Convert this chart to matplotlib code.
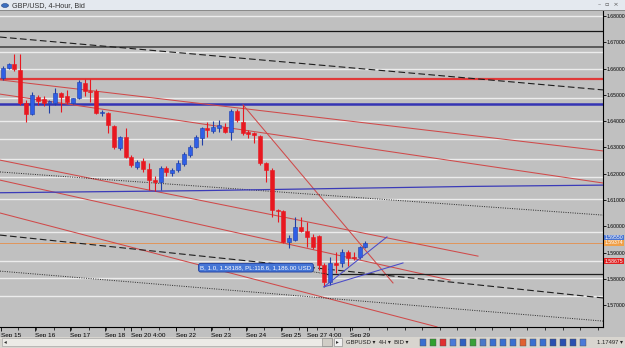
import matplotlib
matplotlib.use("Agg")
import matplotlib.pyplot as plt
from matplotlib.patches import Rectangle, Circle
import numpy as np

plt.rcParams['font.family'] = ['Liberation Sans', 'DejaVu Sans']

# ---------------- data (GBP/USD 4-hour candles) ----------------
opens = [1.6564, 1.6602, 1.6617, 1.6595, 1.6469, 1.6427, 1.6492, 1.6484, 1.6469, 1.6469,
         1.6507, 1.6496, 1.6469, 1.6488, 1.6545, 1.6515, 1.6515, 1.6431, 1.6431, 1.6382,
         1.6298, 1.6340, 1.6264, 1.6226, 1.6249, 1.6218, 1.6176, 1.6169, 1.6222, 1.6203,
         1.6214, 1.6237, 1.6271, 1.6302, 1.6336, 1.6374, 1.6363, 1.6374, 1.6378, 1.6359,
         1.6439, 1.6397, 1.6359, 1.6355, 1.6344, 1.6241, 1.6214, 1.6062, 1.6059, 1.5941,
         1.5948, 1.5998, 1.5982, 1.5960, 1.5963, 1.5853, 1.5789, 1.5861, 1.5861, 1.5903,
         1.5884, 1.5884, 1.5922]
highs = [1.6610, 1.6621, 1.6656, 1.6656, 1.6481, 1.6511, 1.6500, 1.6496, 1.6481, 1.6526,
         1.6511, 1.6519, 1.6488, 1.6557, 1.6560, 1.6560, 1.6522, 1.6443, 1.6435, 1.6386,
         1.6344, 1.6374, 1.6271, 1.6252, 1.6260, 1.6241, 1.6192, 1.6230, 1.6230, 1.6222,
         1.6252, 1.6283, 1.6310, 1.6348, 1.6378, 1.6397, 1.6401, 1.6405, 1.6393, 1.6446,
         1.6446, 1.6462, 1.6367, 1.6359, 1.6348, 1.6245, 1.6222, 1.6066, 1.6062, 1.5967,
         1.6036, 1.6036, 1.6017, 1.5971, 1.5967, 1.5861, 1.5884, 1.5903, 1.5914, 1.5910,
         1.5903, 1.5925, 1.5944]
lows = [1.6557, 1.6598, 1.6591, 1.6462, 1.6397, 1.6424, 1.6462, 1.6458, 1.6431, 1.6462,
        1.6435, 1.6465, 1.6465, 1.6484, 1.6496, 1.6473, 1.6427, 1.6420, 1.6355, 1.6294,
        1.6290, 1.6260, 1.6226, 1.6218, 1.6207, 1.6138, 1.6135, 1.6138, 1.6192, 1.6192,
        1.6207, 1.6230, 1.6264, 1.6298, 1.6310, 1.6340, 1.6355, 1.6359, 1.6355, 1.6329,
        1.6397, 1.6348, 1.6336, 1.6317, 1.6233, 1.6169, 1.6036, 1.6017, 1.5937, 1.5918,
        1.5944, 1.5979, 1.5922, 1.5914, 1.5834, 1.5770, 1.5777, 1.5823, 1.5846, 1.5849,
        1.5872, 1.5876, 1.5918]
closes = [1.6602, 1.6617, 1.6598, 1.6469, 1.6427, 1.6500, 1.6477, 1.6469, 1.6477, 1.6507,
          1.6492, 1.6473, 1.6488, 1.6549, 1.6515, 1.6511, 1.6431, 1.6435, 1.6386, 1.6302,
          1.6340, 1.6264, 1.6233, 1.6245, 1.6218, 1.6176, 1.6169, 1.6222, 1.6207, 1.6214,
          1.6241, 1.6275, 1.6302, 1.6340, 1.6374, 1.6367, 1.6378, 1.6386, 1.6359, 1.6439,
          1.6405, 1.6355, 1.6351, 1.6348, 1.6241, 1.6214, 1.6062, 1.6059, 1.5941, 1.5956,
          1.5998, 1.5982, 1.5960, 1.5922, 1.5853, 1.5789, 1.5861, 1.5853, 1.5903, 1.5880,
          1.5880, 1.5922, 1.5937]

date_labels = ["Sep 15", "Sep 16", "Sep 17", "Sep 18", "Sep 20 4:00", "Sep 22",
               "Sep 23", "Sep 24", "Sep 25", "Sep 27 4:00", "Sep 29"]
date_bars = [-0.3, 5.5, 11.5, 17.5, 21.9, 29.6, 35.6, 41.6, 47.6, 52.0, 59.4]

price_ticks = [1.57, 1.58, 1.59, 1.60, 1.61, 1.62, 1.63, 1.64, 1.65, 1.66, 1.67, 1.68]

white_levels = [1.6800, 1.6663, 1.6598, 1.6488, 1.6401, 1.6332, 1.6256, 1.6188,
                1.6104, 1.5979, 1.5868, 1.5804, 1.5735]
black_level = 1.6743
dark_level = 1.6682
red_level = 1.6560
blue_level = 1.6465
bid_level = 1.59374
entry_level = 1.58188
entry_bar = 55.4
stop_label = 1.58675
ask_label = 1.5956

# trend lines: (bar0, price0, bar1, price1)
red_trend_lines = [(-0.46, 1.6557, 102.62, 1.6287),
                   (-0.46, 1.6503, 102.62, 1.6165),
                   (-0.46, 1.6252, 81.25, 1.5887),
                   (-0.46, 1.6176, 76.46, 1.5796),
                   (-0.46, 1.6051, 74.24, 1.5618),
                   (41.08, 1.6462, 66.72, 1.5785)]
blue_trend_lines = [(54.92, 1.5770, 65.69, 1.5960),
                    (54.92, 1.5770, 68.43, 1.5861)]
dashed_lines = [(-0.46, 1.6720, 102.62, 1.6519),
                (-0.46, 1.5967, 102.62, 1.5728)]
dotted_lines = [(-0.46, 1.6207, 102.62, 1.6043),
                (-0.46, 1.5830, 102.62, 1.5640)]
ma_bars = [-0.46, 33.73, 79.88, 102.62]
ma_values = [1.6128, 1.6136, 1.6152, 1.6157]

trade_text = "B, 1.0, 1.58188, PL:118.6, 1,186.00 USD"

# ---------------- figure ----------------
W, H = 625, 348
BG = '#c0c0c0'
fig = plt.figure(figsize=(W / 100, H / 100), dpi=100, facecolor=BG)


def fx(px):
    return px / W


def fy(py):
    return 1 - py / H


ax = fig.add_axes([0, fy(327), fx(603), (327 - 11) / H])
ax.set_facecolor(BG)
ax.set_xlim(-0.46, 102.62)
ax.set_ylim(1.56175, 1.6819)

# horizontal levels
for lv in white_levels:
    ax.axhline(lv, color='#ececec', lw=1.0, zorder=1)
ax.axhline(black_level, color='#151515', lw=0.9, zorder=2)
ax.axhline(dark_level, color='#4a4a4a', lw=1.2, zorder=2)
ax.axhline(red_level, color='#e03a3a', lw=1.6, zorder=2)
ax.axhline(blue_level, color='#3434b4', lw=1.8, zorder=2)
ax.axhline(bid_level, color='#e0955a', lw=0.7, zorder=2)

# trend lines
for x0, p0, x1, p1 in red_trend_lines:
    ax.plot([x0, x1], [p0, p1], color='#d04a4a', lw=0.75, zorder=3)
for x0, p0, x1, p1 in blue_trend_lines:
    ax.plot([x0, x1], [p0, p1], color='#4a4ac8', lw=0.75, zorder=7)
for x0, p0, x1, p1 in dashed_lines:
    ax.plot([x0, x1], [p0, p1], color='#1e1e1e', lw=0.8, dashes=(6, 3), zorder=3)
for x0, p0, x1, p1 in dotted_lines:
    ax.plot([x0, x1], [p0, p1], color='#2a2a2a', lw=0.7, dashes=(1, 1.4), zorder=3)
ax.plot(ma_bars, ma_values, color='#3b3bb8', lw=0.9, zorder=3)

# trade entry line
ax.plot([entry_bar, 102.62], [entry_level, entry_level], color='#202020', lw=0.9, zorder=3)

# candles
for i, (o, h, l, c) in enumerate(zip(opens, highs, lows, closes)):
    up = c >= o
    col = '#2f5fe6' if up else '#e81820'
    edge = '#1f3fa8' if up else '#e81820'
    ax.vlines(i, l, h, color=edge, lw=0.8, zorder=5)
    bottom = min(o, c)
    height = max(abs(c - o), 0.00012)
    ax.bar(i, height, bottom=bottom, width=0.68, color=col, edgecolor=edge,
           lw=0.4, zorder=6)

# trade label
ax.text(33.8, 1.5843, trade_text, size=4.4, color='white', va='center', ha='left',
        zorder=9, bbox=dict(boxstyle='round,pad=0.3,rounding_size=0.35',
                            fc='#4676d6', ec='#1e3c9c', lw=0.6))
ax.plot([51.6, entry_bar], [1.5833, entry_level], color='#202020', lw=0.6,
        dashes=(1, 1), zorder=8)

# axes styling
for s in ['top', 'left']:
    ax.spines[s].set_visible(False)
ax.spines['right'].set_color('black')
ax.spines['bottom'].set_color('black')
ax.spines['right'].set_linewidth(0.8)
ax.spines['bottom'].set_linewidth(0.8)
ax.yaxis.tick_right()
ax.set_yticks(price_ticks)
ax.set_yticklabels([f"{v:.5f}" for v in price_ticks])
ax.tick_params(axis='y', length=2.0, width=0.6, pad=0.3, labelsize=3.7, colors='black')
ax.set_xticks(date_bars)
ax.set_xticklabels(date_labels, ha='left')
ax.set_xticks(np.arange(-0.3, 102.6, 3.0), minor=True)
ax.tick_params(axis='x', which='major', length=3, width=0.6, pad=1.5, labelsize=4.6,
               colors='black')
ax.tick_params(axis='x', which='minor', length=2, width=0.5, colors='black')

# right-side price labels
ytr = ax.get_yaxis_transform()
for lvl, txt, fc, z in [(ask_label, "1.59550", '#4a74d0', 10),
                        (bid_level, "1.59374", '#f0a048', 11),
                        (stop_label, "1.58675", '#e02020', 11)]:
    ax.text(1.003, lvl, txt, transform=ytr, ha='left', va='center', size=3.7,
            color='white', clip_on=False, zorder=z,
            bbox=dict(boxstyle='square,pad=0.1', fc=fc, ec='none'))

# ---------------- window chrome ----------------
fig.patches.append(Rectangle((0, fy(11)), 1, 11 / H, transform=fig.transFigure,
                             fc='#e4e9ef', ec='none', zorder=0))
fig.patches.append(Rectangle((0, fy(11)), 1, 0.6 / H, transform=fig.transFigure,
                             fc='#8a8a8a', ec='none', zorder=1))
fig.patches.append(Circle((fx(5), fy(5.5)), 3.5 / W, transform=fig.transFigure,
                          fc='#3a6fc0', ec='#1d3f80', lw=0.4, zorder=2))
fig.text(fx(12), fy(5.5), "GBP/USD, 4-Hour, Bid", size=5.2, color='#333333',
         va='center', ha='left')
fig.text(fx(619), fy(5), "–  ▫  ×", size=4.5, color='#555555', va='center', ha='right',
         family=['DejaVu Sans'])

# bottom toolbar
fig.patches.append(Rectangle((0, 0), 1, 11 / H, transform=fig.transFigure,
                             fc='#d8d5cf', ec='none', zorder=0))
fig.patches.append(Rectangle((fx(2), fy(346)), fx(330), 8 / H, transform=fig.transFigure,
                             fc='#eceae6', ec='#9a9a9a', lw=0.4, zorder=1))
fig.patches.append(Rectangle((fx(322), fy(346)), fx(10), 8 / H, transform=fig.transFigure,
                             fc='#d0cdc6', ec='#808080', lw=0.4, zorder=2))
fig.patches.append(Rectangle((fx(334), fy(346)), fx(8), 8 / H, transform=fig.transFigure,
                             fc='#f0f0f0', ec='#808080', lw=0.4, zorder=2))
fig.text(fx(4), fy(342), "◂", size=4, color='#333333', va='center', ha='left',
         family=['DejaVu Sans'])
fig.text(fx(336), fy(342), "▸", size=4, color='#333333', va='center', ha='left',
         family=['DejaVu Sans'])
fig.text(fx(346), fy(342), "GBPUSD ▾  4H ▾  BID ▾", size=4.2, color='#222222',
         va='center', ha='left', family=['Liberation Sans', 'DejaVu Sans'])
icon_cols = ['#3a6fd0', '#2ea02e', '#e03030', '#4a7ad8', '#3060c0', '#38a038', '#4a78c8',
             '#3a6fd0', '#3a6fd0', '#3a6fd0', '#e06030', '#3a6fd0', '#3a6fd0', '#2a4fb0',
             '#2a4fb0', '#2a4fb0', '#4a7ad8']
for k, c in enumerate(icon_cols):
    x0 = 420 + k * 10
    fig.patches.append(Rectangle((fx(x0), fy(346)), fx(6), 7 / H, transform=fig.transFigure,
                                 fc=c, ec='#505050', lw=0.3, zorder=2))
fig.text(fx(623), fy(342), "1.17497 ▾", size=4.2, color='#222222', va='center', ha='right',
         family=['Liberation Sans', 'DejaVu Sans'])

fig.savefig("out.png", dpi=100, facecolor=BG)
